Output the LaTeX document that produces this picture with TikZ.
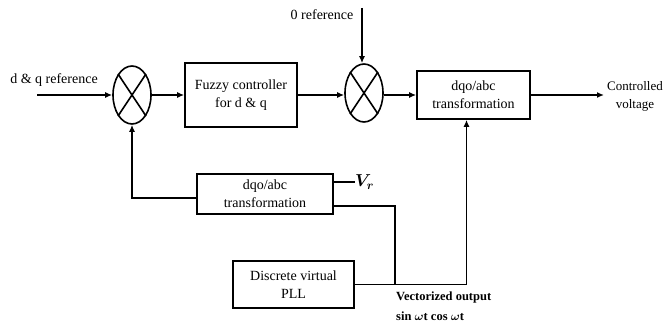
\documentclass[tikz,border=0pt]{standalone}
\usepackage{amsmath}
\usepackage{fontspec}
\setmainfont{Liberation Serif}
\usetikzlibrary{shapes.geometric}
\usetikzlibrary{calc}
\usetikzlibrary{arrows.meta}

\tikzset{
    block/.style={draw, line width=1.6pt, align=center, inner sep=0pt, font=\fontsize{14}{18}\selectfont},
    summer/.style={draw, ellipse, line width=1.6pt, minimum width=38pt, minimum height=58pt, inner sep=0pt},
    wire/.style={line width=1.6pt},
    arr/.style={wire, -{Latex[length=7pt,width=6pt]}},
    lbl/.style={align=center, inner sep=0pt, font=\fontsize{14}{18}\selectfont}
}

\begin{document}
\begin{tikzpicture}[x=1pt,y=-1pt]
    \useasboundingbox (0,0) rectangle (667,326);
    % summing junctions
    \node (sum1) [summer] at (132,95) {};
    \node (sum2) [summer] at (364,93) {};
    \foreach \s in {sum1,sum2} {
        \draw[wire] (\s.north west) -- (\s.south east);
        \draw[wire] (\s.north east) -- (\s.south west);
    }
    % blocks
    \node (fuzzy) [block, minimum width=112pt, minimum height=64pt] at (241,95) {Fuzzy controller\\for d \& q};
    \node (dqoabc) [block, minimum width=113pt, minimum height=48pt] at (473.5,95) {dqo/abc\\transformation};
    \node (dqoabcfb) [block, minimum width=136pt, minimum height=40pt] at (265,194) {dqo/abc\\transformation};
    \node (pll) [block, minimum width=121pt, minimum height=47pt] at (293.5,284.5) {Discrete virtual\\PLL};
    % labels
    \node (inlbl) [lbl] at (54,80) {d \& q reference};
    \node (thlbl) [lbl] at (322,15) {0 reference};
    \node (outlbl) [lbl, anchor=west, font=\fontsize{13}{18}\selectfont] at (607,96) {Controlled\\voltage};
    \node (vr) [lbl, anchor=west, font=\fontsize{18}{18}\selectfont] at (355,182) {$\boldsymbol{V_r}$};
    \node (veclbl) [lbl, anchor=north west, align=left, font=\bfseries\fontsize{12.5}{20}\selectfont] at (396,292) {Vectorized output\\sin $\boldsymbol{\omega}$t cos $\boldsymbol{\omega}$t};
    \coordinate (in) at (37,95);
    \coordinate (theta) at (362,8);
    \coordinate (out) at (604,95);
    \coordinate (tap) at (395,284.5);
    % forward path
    \draw[arr] (in) -- (sum1.west);
    \draw[arr] (sum1.east |- in) -- (fuzzy.west |- in);
    \draw[arr] (fuzzy.east |- in) -- (sum2.west |- in);
    \draw[arr] (sum2.east |- in) -- (dqoabc.west |- in);
    \draw[arr] (dqoabc.east) -- (out);
    \draw[arr] (theta) -- (theta |- sum2.north);
    % feedback and PLL
    \draw[arr] ([yshift=-4pt]dqoabcfb.west) -| (sum1.south);
    \draw[wire] ([yshift=12pt]dqoabcfb.east) -- (vr.west);
    \draw[arr] (pll.east) -| ([xshift=-7pt]dqoabc.south);
    \draw[wire] (tap) |- ([yshift=-12pt]dqoabcfb.east);
\end{tikzpicture}
\end{document}
